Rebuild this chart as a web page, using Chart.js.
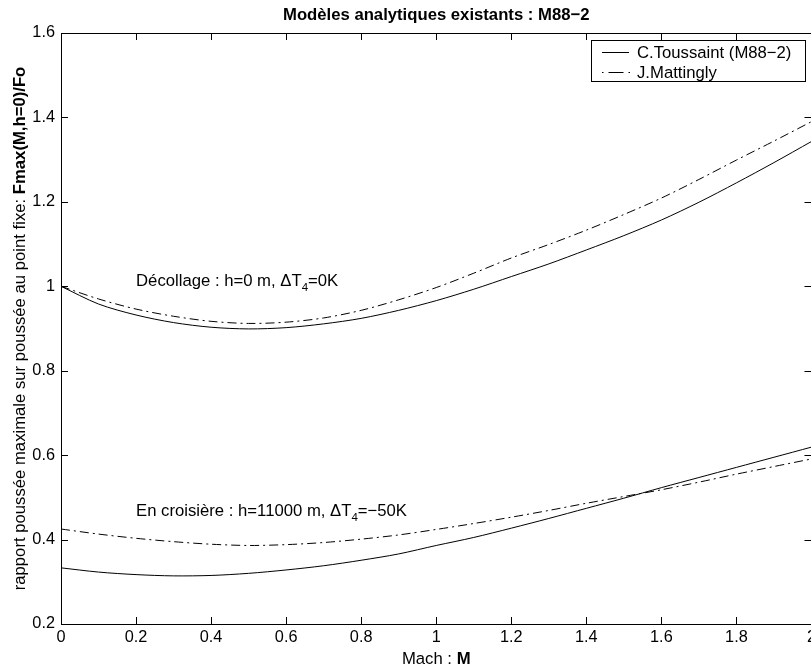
<!DOCTYPE html>
<html>
<head>
<meta charset="utf-8">
<script src="https://cdn.jsdelivr.net/npm/chart.js@4.4.0/dist/chart.umd.min.js"></script>
<style>
  html, body { margin: 0; padding: 0; background: #fff; overflow: hidden; }
  #wrap { width: 811px; height: 668px; overflow: hidden; }
</style>
</head>
<body>
<div id="wrap"><canvas id="chart" width="820" height="668"></canvas></div>
<script>
// Mach number samples
const machValues = [0, 0.1, 0.2, 0.3, 0.4, 0.5, 0.6, 0.7, 0.8, 0.9, 1.0,
  1.1, 1.2, 1.3, 1.4, 1.5, 1.6, 1.7, 1.8, 1.9, 2.0];

// Décollage : h=0 m
const toussaintDecollage = [1.000, 0.958, 0.932, 0.914, 0.903, 0.899, 0.902, 0.911, 0.924, 0.943, 0.966,
  0.993, 1.023, 1.053, 1.086, 1.120, 1.157, 1.199, 1.245, 1.293, 1.343];
const mattinglyDecollage = [1.000, 0.970, 0.946, 0.929, 0.917, 0.912, 0.915, 0.925, 0.943, 0.968, 0.997,
  1.031, 1.067, 1.099, 1.133, 1.170, 1.209, 1.253, 1.299, 1.344, 1.390];

// En croisière : h=11000 m
const toussaintCroisiere = [0.333, 0.323, 0.317, 0.314, 0.315, 0.320, 0.328, 0.338, 0.351, 0.366, 0.386,
  0.405, 0.427, 0.450, 0.474, 0.498, 0.523, 0.547, 0.571, 0.595, 0.619];
const mattinglyCroisiere = [0.425, 0.413, 0.403, 0.395, 0.389, 0.386, 0.388, 0.393, 0.401, 0.411, 0.424,
  0.438, 0.453, 0.469, 0.486, 0.502, 0.518, 0.536, 0.555, 0.573, 0.591];

const xTickValues = [0, 0.2, 0.4, 0.6, 0.8, 1, 1.2, 1.4, 1.6, 1.8, 2];
const xTickLabels = ['0', '0.2', '0.4', '0.6', '0.8', '1', '1.2', '1.4', '1.6', '1.8', '2'];
const yTickValues = [0.2, 0.4, 0.6, 0.8, 1, 1.2, 1.4, 1.6];
const yTickLabels = ['0.2', '0.4', '0.6', '0.8', '1', '1.2', '1.4', '1.6'];

const seriesNames = ['C.Toussaint (M88\u22122)', 'J.Mattingly'];

const FONT = "'Liberation Sans', Arial, Helvetica, sans-serif";
const FS = 16.7;
const DASHDOT = [9, 4, 2, 4];

const toPoints = (ys) => machValues.map((m, i) => ({ x: m, y: ys[i] }));

const lineStyle = (label, ys, dashed) => ({
  label: label,
  data: toPoints(ys),
  borderColor: '#000',
  borderWidth: 1,
  borderDash: dashed ? DASHDOT : [],
  pointRadius: 0,
  tension: 0.3,
  fill: false
});

// draw a list of text runs (mixed fonts / subscripts) starting at x
function drawRuns(ctx, runs, x, y, align) {
  let total = 0;
  runs.forEach(r => { ctx.font = r.font; total += ctx.measureText(r.text).width; });
  let cx = align === 'center' ? x - total / 2 : x;
  ctx.textAlign = 'left';
  ctx.textBaseline = 'alphabetic';
  runs.forEach(r => {
    ctx.font = r.font;
    ctx.fillText(r.text, cx, y + (r.dy || 0));
    cx += ctx.measureText(r.text).width;
  });
}

const reg = FS + 'px ' + FONT;
const bold = 'bold ' + FS + 'px ' + FONT;
const sub = '11.5px ' + FONT;

const decorPlugin = {
  id: 'decor',
  afterDraw(chart) {
    const ctx = chart.ctx;
    const a = chart.chartArea;
    const xs = chart.scales.x, ys = chart.scales.y;
    ctx.save();
    ctx.fillStyle = '#000';
    ctx.strokeStyle = '#000';
    ctx.lineWidth = 1;

    // box
    ctx.strokeRect(Math.round(a.left) + 0.5, Math.round(a.top) + 0.5,
      Math.round(a.right - a.left), Math.round(a.bottom - a.top));

    // inward ticks
    const tl = 7;
    ctx.beginPath();
    xTickValues.forEach(v => {
      const px = Math.round(xs.getPixelForValue(v)) + 0.5;
      ctx.moveTo(px, a.bottom); ctx.lineTo(px, a.bottom - tl);
      ctx.moveTo(px, a.top); ctx.lineTo(px, a.top + tl);
    });
    yTickValues.forEach(v => {
      const py = Math.round(ys.getPixelForValue(v)) + 0.5;
      ctx.moveTo(a.left, py); ctx.lineTo(a.left + tl, py);
      ctx.moveTo(a.right, py); ctx.lineTo(a.right - tl, py);
    });
    ctx.stroke();

    // title
    drawRuns(ctx, [{ text: 'Mod\u00e8les analytiques existants : M88\u22122', font: bold }],
      (a.left + a.right) / 2, 20, 'center');

    // x label
    drawRuns(ctx, [{ text: 'Mach : ', font: reg }, { text: 'M', font: bold }],
      (a.left + a.right) / 2, 664, 'center');

    // y label
    ctx.save();
    ctx.translate(25, (a.top + a.bottom) / 2);
    ctx.rotate(-Math.PI / 2);
    drawRuns(ctx, [
      { text: 'rapport pouss\u00e9e maximale sur pouss\u00e9e au point fixe: ', font: reg },
      { text: 'Fmax(M,h=0)/Fo', font: bold }
    ], 0, 0, 'center');
    ctx.restore();

    // annotations
    drawRuns(ctx, [
      { text: 'D\u00e9collage : h=0 m, \u0394T', font: reg },
      { text: '4', font: sub, dy: 5 },
      { text: '=0K', font: reg }
    ], xs.getPixelForValue(0.2), ys.getPixelForValue(1.0), 'left');
    drawRuns(ctx, [
      { text: 'En croisi\u00e8re : h=11000 m, \u0394T', font: reg },
      { text: '4', font: sub, dy: 5 },
      { text: '=\u221250K', font: reg }
    ], xs.getPixelForValue(0.2), ys.getPixelForValue(0.455), 'left');

    // legend
    const lx = 591, ly = 40, lw = 214, lh = 41;
    ctx.fillStyle = '#fff';
    ctx.fillRect(lx + 0.5, ly + 0.5, lw, lh);
    ctx.strokeRect(lx + 0.5, ly + 0.5, lw, lh);
    ctx.fillStyle = '#000';
    ctx.beginPath();
    ctx.moveTo(602, 52.5); ctx.lineTo(629, 52.5);
    ctx.stroke();
    ctx.setLineDash([1.5, 5, 15, 5, 1.5, 20]);
    ctx.beginPath();
    ctx.moveTo(602, 72.5); ctx.lineTo(630, 72.5);
    ctx.stroke();
    ctx.setLineDash([]);
    drawRuns(ctx, [{ text: seriesNames[0], font: reg }], 637, 58, 'left');
    drawRuns(ctx, [{ text: seriesNames[1], font: reg }], 637, 78, 'left');

    ctx.restore();
  }
};

new Chart(document.getElementById('chart'), {
  type: 'line',
  data: {
    datasets: [
      lineStyle(seriesNames[0], toussaintDecollage, false),
      lineStyle(seriesNames[1], mattinglyDecollage, true),
      lineStyle(seriesNames[0], toussaintCroisiere, false),
      lineStyle(seriesNames[1], mattinglyCroisiere, true)
    ]
  },
  options: {
    responsive: false,
    animation: false,
    events: [],
    layout: { padding: { top: 33, right: 8, left: 0, bottom: 0 } },
    plugins: { legend: { display: false }, title: { display: false }, tooltip: { enabled: false } },
    scales: {
      x: {
        type: 'linear',
        min: 0, max: 2,
        afterBuildTicks: (scale) => { scale.ticks = xTickValues.map(v => ({ value: v })); },
        afterFit: (scale) => { scale.height = 44; },
        grid: { display: false, drawTicks: false },
        border: { display: false },
        ticks: {
          autoSkip: false, maxRotation: 0, padding: 4, color: '#000',
          font: { family: FONT, size: 16.3 },
          callback: (v, i) => xTickLabels[i]
        }
      },
      y: {
        type: 'linear',
        min: 0.2, max: 1.6,
        afterBuildTicks: (scale) => { scale.ticks = yTickValues.map(v => ({ value: v })); },
        afterFit: (scale) => { scale.width = 61; },
        grid: { display: false, drawTicks: false },
        border: { display: false },
        ticks: {
          autoSkip: false, padding: 6, color: '#000',
          font: { family: FONT, size: 16.3 },
          callback: (v, i) => yTickLabels[i]
        }
      }
    }
  },
  plugins: [decorPlugin]
});
</script>
</body>
</html>
